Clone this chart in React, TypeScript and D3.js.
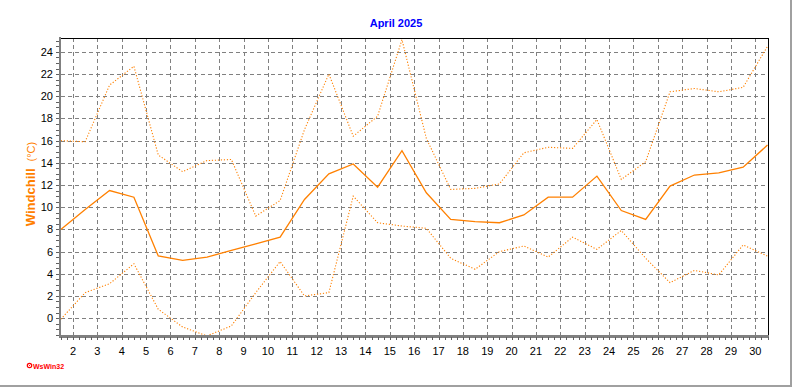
import React from "react";
import * as d3 from "d3";

const title = "April 2025";
const yLabel = "Windchill";
const yUnit = "(°C)";
const dayPos = [1.5, 2.5, 3.5, 4.5, 5.5, 6.5, 7.5, 8.5, 9.5, 10.5, 11.5, 12.5, 13.5, 14.5, 15.5, 16.5, 17.5, 18.5, 19.5, 20.5, 21.5, 22.5, 23.5, 24.5, 25.5, 26.5, 27.5, 28.5, 29.5, 30.5];
const maxVals = [16.0, 15.9, 21.0, 22.7, 14.7, 13.2, 14.2, 14.3, 9.2, 10.6, 17.0, 22.0, 16.4, 18.2, 25.1, 16.2, 11.6, 11.7, 12.1, 14.9, 15.4, 15.3, 17.9, 12.5, 14.1, 20.4, 20.7, 20.4, 20.8, 24.5];
const meanVals = [8.0, 9.8, 11.5, 10.9, 5.6, 5.2, 5.5, 6.1, 6.7, 7.3, 10.7, 13.0, 13.9, 11.8, 15.1, 11.3, 8.9, 8.7, 8.6, 9.3, 10.9, 10.9, 12.8, 9.7, 8.9, 11.9, 12.9, 13.1, 13.6, 15.6];
const minVals = [-0.1, 2.3, 3.1, 4.9, 0.8, -0.8, -1.6, -0.7, 2.3, 5.1, 2.0, 2.3, 11.0, 8.6, 8.3, 8.1, 5.4, 4.4, 6.0, 6.5, 5.5, 7.3, 6.2, 7.9, 5.4, 3.2, 4.3, 3.9, 6.6, 5.6];
const xTicks = [2, 3, 4, 5, 6, 7, 8, 9, 10, 11, 12, 13, 14, 15, 16, 17, 18, 19, 20, 21, 22, 23, 24, 25, 26, 27, 28, 29, 30];
const yTicks = [0, 2, 4, 6, 8, 10, 12, 14, 16, 18, 20, 22, 24];

const W = 792;
const H = 387;
const left = 60.8;
const right = 767.5;
const top = 38;
const bottom = 337;

export default function App() {
  const x = d3.scaleLinear().domain([1.5, 30.5]).range([left, right]);
  const y = d3.scaleLinear().domain([-1.7, 25.25]).range([bottom, top]);
  const line = d3
    .line<number>()
    .x((_, i) => x(dayPos[i]))
    .y((d) => y(d));

  const minorX = d3.range(1.5, 30.51, 0.25);
  const minorY = d3.range(-1.5, 25.01, 0.5);
  const orange = "#ff8000";
  const grid = "#808080";
  const font = "'Liberation Sans', Arial, sans-serif";

  return (
    <svg
      width={W}
      height={H}
      style={{ position: "absolute", left: 0, top: 0, display: "block", background: "#fff" }}
    >
      <rect x={0} y={0} width={W} height={H} fill="#fff" />
      <line x1={791} y1={0} x2={791} y2={H} stroke="#a0a0a0" strokeWidth={2} />
      <line x1={0} y1={386} x2={W} y2={386} stroke="#a0a0a0" strokeWidth={2} />

      {yTicks.map((t) => (
        <line
          key={"gy" + t}
          x1={left}
          x2={right}
          y1={Math.round(y(t)) + 0.5}
          y2={Math.round(y(t)) + 0.5}
          stroke={grid}
          strokeDasharray="4,3"
          shapeRendering="crispEdges"
        />
      ))}
      {xTicks.map((t) => (
        <line
          key={"gx" + t}
          x1={Math.round(x(t)) + 0.5}
          x2={Math.round(x(t)) + 0.5}
          y1={top}
          y2={bottom}
          stroke={grid}
          strokeDasharray="4,3"
          shapeRendering="crispEdges"
        />
      ))}

      <line x1={60} x2={768.5} y1={38.5} y2={38.5} stroke="#000" strokeWidth={1.5} shapeRendering="crispEdges" />
      <line x1={768.5} x2={768.5} y1={38} y2={337} stroke="#000" strokeWidth={1.5} shapeRendering="crispEdges" />

      <path d={line(maxVals) || ""} fill="none" stroke={orange} strokeWidth={1.1} strokeDasharray="1.2,1.8" />
      <path d={line(minVals) || ""} fill="none" stroke={orange} strokeWidth={1.1} strokeDasharray="1.2,1.8" />
      <path d={line(meanVals) || ""} fill="none" stroke={orange} strokeWidth={1.3} />

      <line x1={60} x2={60} y1={37} y2={338} stroke={grid} strokeWidth={2.5} shapeRendering="crispEdges" />
      <line x1={59} x2={769} y1={336.5} y2={336.5} stroke={grid} strokeWidth={2.5} shapeRendering="crispEdges" />
      {minorX.map((t, i) => (
        <line
          key={"mx" + i}
          x1={Math.round(x(t)) + 0.5}
          x2={Math.round(x(t)) + 0.5}
          y1={337}
          y2={340}
          stroke="#606060"
          shapeRendering="crispEdges"
        />
      ))}
      {minorY.map((t, i) => (
        <line
          key={"my" + i}
          x1={56}
          x2={59}
          y1={Math.round(y(t)) + 0.5}
          y2={Math.round(y(t)) + 0.5}
          stroke="#606060"
          shapeRendering="crispEdges"
        />
      ))}

      {yTicks.map((t) => (
        <text key={"ly" + t} x={53} y={y(t) + 4} textAnchor="end" fontFamily={font} fontSize={11} fill="#000">
          {t}
        </text>
      ))}
      {xTicks.map((t) => (
        <text key={"lx" + t} x={x(t)} y={355} textAnchor="middle" fontFamily={font} fontSize={11} fill="#000">
          {t}
        </text>
      ))}

      <text x={396} y={27} textAnchor="middle" fontFamily={font} fontSize={11} fontWeight="bold" fill="#0000ff">
        {title}
      </text>

      <text
        transform="translate(35,184) rotate(-90)"
        textAnchor="middle"
        fontFamily={font}
        fontSize={13}
        fill={orange}
      >
        <tspan fontWeight="bold">{yLabel}</tspan>
        <tspan dx={7} fontSize={11}>{yUnit}</tspan>
      </text>

      <circle cx={29.5} cy={365.5} r={2.2} fill="none" stroke="#ff0000" strokeWidth={1.2} />
      <circle cx={29.5} cy={365.5} r={0.6} fill="#ff0000" />
      <text x={33} y={368.5} fontFamily={font} fontSize={7} fontWeight="bold" fill="#ff0000">
        WsWin32
      </text>
    </svg>
  );
}
